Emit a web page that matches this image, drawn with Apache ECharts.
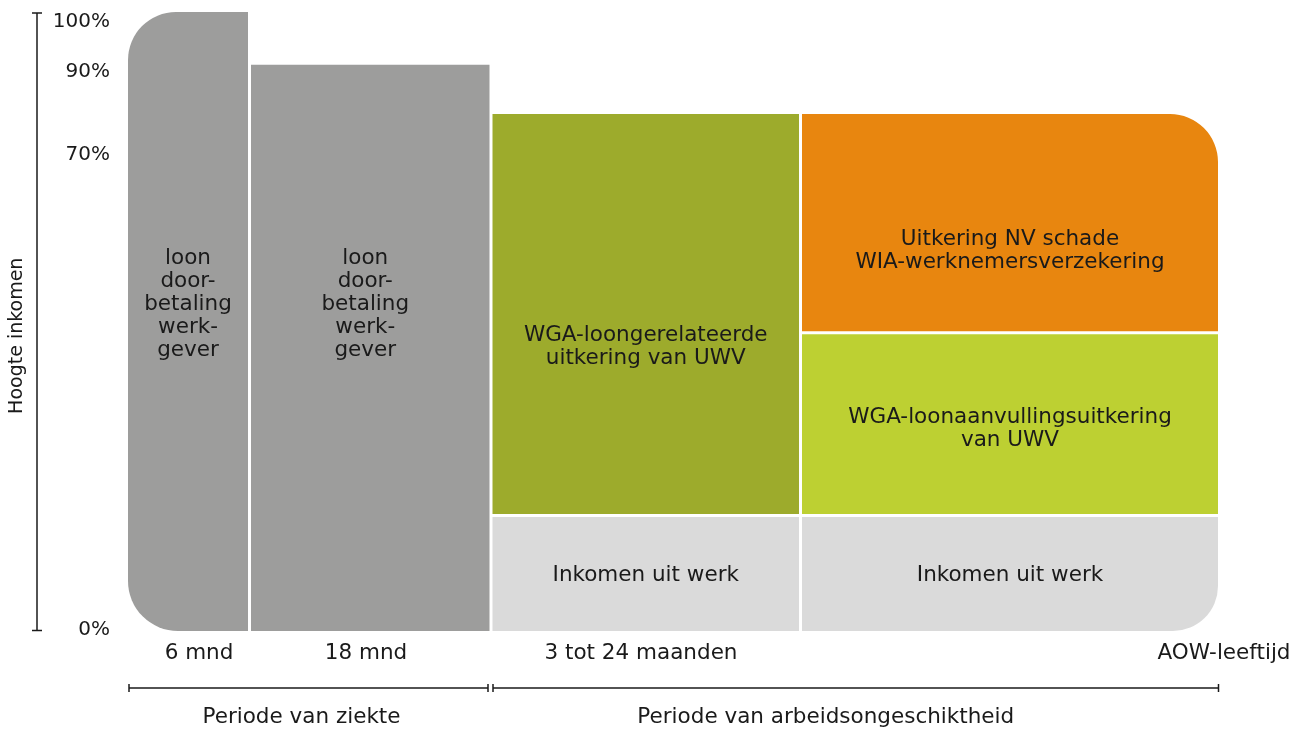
<!DOCTYPE html>
<html>
<head>
<meta charset="utf-8">
<script src="https://cdn.jsdelivr.net/npm/echarts@6/dist/echarts.min.js"></script>
<style>
html,body{margin:0;padding:0;background:#fff;}
#chart{width:1308px;height:729px;}
</style>
</head>
<body>
<div id="chart"></div>
<script>
// ---- data (schematic units) ----
var blockNames = [
  'loon\ndoor-\nbetaling\nwerk-\ngever',
  'loon\ndoor-\nbetaling\nwerk-\ngever',
  'WGA-loongerelateerde\nuitkering van UWV',
  'Inkomen uit werk',
  'Uitkering NV schade\nWIA-werknemersverzekering',
  'WGA-loonaanvullingsuitkering\nvan UWV',
  'Inkomen uit werk'
];
var blockXStart = [0, 12.3, 36.45, 36.45, 67.4, 67.4, 67.4];
var blockXEnd   = [12.3, 36.45, 67.4, 67.4, 109.3, 109.3, 109.3];
var blockYStart = [0, 0, 18.8, 0, 48.2, 18.8, 0];
var blockYEnd   = [100, 91.5, 83.6, 18.8, 83.6, 48.2, 18.8];

var yTickValues = [0.4, 76.8, 90.1, 98.2];
var yTickLabels = ['0%', '70%', '90%', '100%'];
var yAxisTitle = 'Hoogte inkomen';

var xTickValues = [7.25, 23.95, 51.45, 109.75];
var xTickLabels = ['6 mnd', '18 mnd', '3 tot 24 maanden', 'AOW-leeftijd'];

var periodNames = ['Periode van ziekte', 'Periode van arbeidsongeschiktheid'];
var periodStart = [0, 36.45];
var periodEnd   = [36.45, 109.3];

// ---- styles ----
var FONT = '"DejaVu Sans"';
var FS = 21.5;
var FS_PCT = 20;
var FS_TITLE = 19;
var TXT = '#1a1a1a';
var blockColors = ['#9d9d9c', '#9d9d9c', '#9dab2c', '#dadada', '#e8860f', '#bdd032', '#dadada'];
var blockRadius = [[48,0,0,50], [0,0,0,0], [0,0,0,0], [0,0,0,0], [0,48,0,0], [0,0,0,0], [0,0,45,0]];
var labelY = [52.7, 52.7, 45.9, 9.2, 61.3, 32.7, 9.2]; // label centre height, data units
var labelDX = [0, -5, 0, 0, 0, 0, 0];                 // label horizontal nudge, px
var periodLabelDX = [-7, -30];                       // px
var GAP = 1.5;
var AXIS_SHIFT = 89.5; // distance of the drawn y-axis line left of the plot

var blockData = blockNames.map(function (n, i) {
  return { value: [blockXStart[i], blockXEnd[i], blockYStart[i], blockYEnd[i], labelY[i]], name: n };
});
var periodData = periodNames.map(function (n, i) {
  return { value: [periodStart[i], periodEnd[i]], name: n };
});

var chart = echarts.init(document.getElementById('chart'), null, { renderer: 'canvas' });
chart.setOption({
  animation: false,
  backgroundColor: '#ffffff',
  grid: { left: 126.5, right: 81.5, top: 10.5, bottom: 96.5, containLabel: false, outerBoundsMode: 'none' },
  xAxis: {
    type: 'value', min: 0, max: 110,
    axisLine: { show: false }, axisTick: { show: false }, splitLine: { show: false },
    axisLabel: {
      customValues: xTickValues,
      formatter: function (v) { var i = xTickValues.indexOf(v); return i >= 0 ? xTickLabels[i] : ''; },
      margin: 10, color: TXT, fontFamily: FONT, fontSize: FS
    }
  },
  yAxis: {
    type: 'value', min: 0, max: 100, position: 'left',
    axisLine: { show: false }, axisTick: { show: false }, splitLine: { show: false },
    axisLabel: {
      margin: 16.5, align: 'right',
      customValues: yTickValues,
      formatter: function (v) { var i = yTickValues.indexOf(v); return i >= 0 ? yTickLabels[i] : ''; },
      color: TXT, fontFamily: FONT, fontSize: FS_PCT
    }
  },
  series: [
    {
      type: 'custom', name: 'blokken', clip: false,
      data: blockData,
      renderItem: function (params, api) {
        var i = params.dataIndex;
        var p0 = api.coord([api.value(0), api.value(2)]);
        var p1 = api.coord([api.value(1), api.value(3)]);
        var pl = api.coord([(api.value(0) + api.value(1)) / 2, api.value(4)]);
        var x = p0[0] + GAP, y = p1[1] + GAP;
        var w = p1[0] - p0[0] - 2 * GAP, h = p0[1] - p1[1] - 2 * GAP;
        return {
          type: 'group',
          children: [
            { type: 'rect', shape: { x: x, y: y, width: w, height: h, r: blockRadius[i] },
              style: { fill: blockColors[i] } },
            { type: 'text', x: pl[0] + labelDX[i], y: pl[1],
              style: { text: blockNames[i], fill: TXT, font: FS + 'px ' + FONT,
                       align: 'center', verticalAlign: 'middle', lineHeight: 23 } }
          ]
        };
      }
    },
    {
      type: 'custom', name: 'perioden', clip: false,
      data: periodData,
      renderItem: function (params, api) {
        var a = api.coord([api.value(0), 0]);
        var b = api.coord([api.value(1), 0]);
        var ly = a[1] + 55.5;
        var x0, x1;
        if (params.dataIndex === 0) { x0 = a[0] + 2.5; x1 = b[0] - 3; }
        else { x0 = a[0] + 2; x1 = b[0] - 1; }
        var ls = { stroke: TXT, lineWidth: 1.5 };
        return {
          type: 'group',
          children: [
            { type: 'line', shape: { x1: x0, y1: ly, x2: x1, y2: ly }, style: ls },
            { type: 'line', shape: { x1: x0, y1: ly - 4, x2: x0, y2: ly + 4 }, style: ls },
            { type: 'line', shape: { x1: x1, y1: ly - 4, x2: x1, y2: ly + 4 }, style: ls },
            { type: 'text', x: (x0 + x1) / 2 + periodLabelDX[params.dataIndex], y: ly + 29.5,
              style: { text: periodNames[params.dataIndex], fill: TXT, font: FS + 'px ' + FONT,
                       align: 'center', verticalAlign: 'middle' } }
          ]
        };
      }
    },
    {
      type: 'custom', name: 'as', clip: false,
      data: [[0, 100]],
      renderItem: function (params, api) {
        var lo = api.coord([0, api.value(0)]);
        var hi = api.coord([0, api.value(1)]);
        var ax = lo[0] - AXIS_SHIFT;
        var y0 = lo[1] - 2, y1 = hi[1] + 2.5;
        var ls = { stroke: TXT, lineWidth: 1.5 };
        return {
          type: 'group',
          children: [
            { type: 'line', shape: { x1: ax, y1: y0, x2: ax, y2: y1 }, style: ls },
            { type: 'line', shape: { x1: ax - 5, y1: y0, x2: ax + 5, y2: y0 }, style: ls },
            { type: 'line', shape: { x1: ax - 5, y1: y1, x2: ax + 5, y2: y1 }, style: ls },
            { type: 'text', x: ax - 20, y: (y0 + y1) / 2 + 14, rotation: Math.PI / 2,
              style: { text: yAxisTitle, fill: TXT, font: FS_TITLE + 'px ' + FONT,
                       align: 'center', verticalAlign: 'middle' } }
          ]
        };
      }
    }
  ]
});
</script>
</body>
</html>
